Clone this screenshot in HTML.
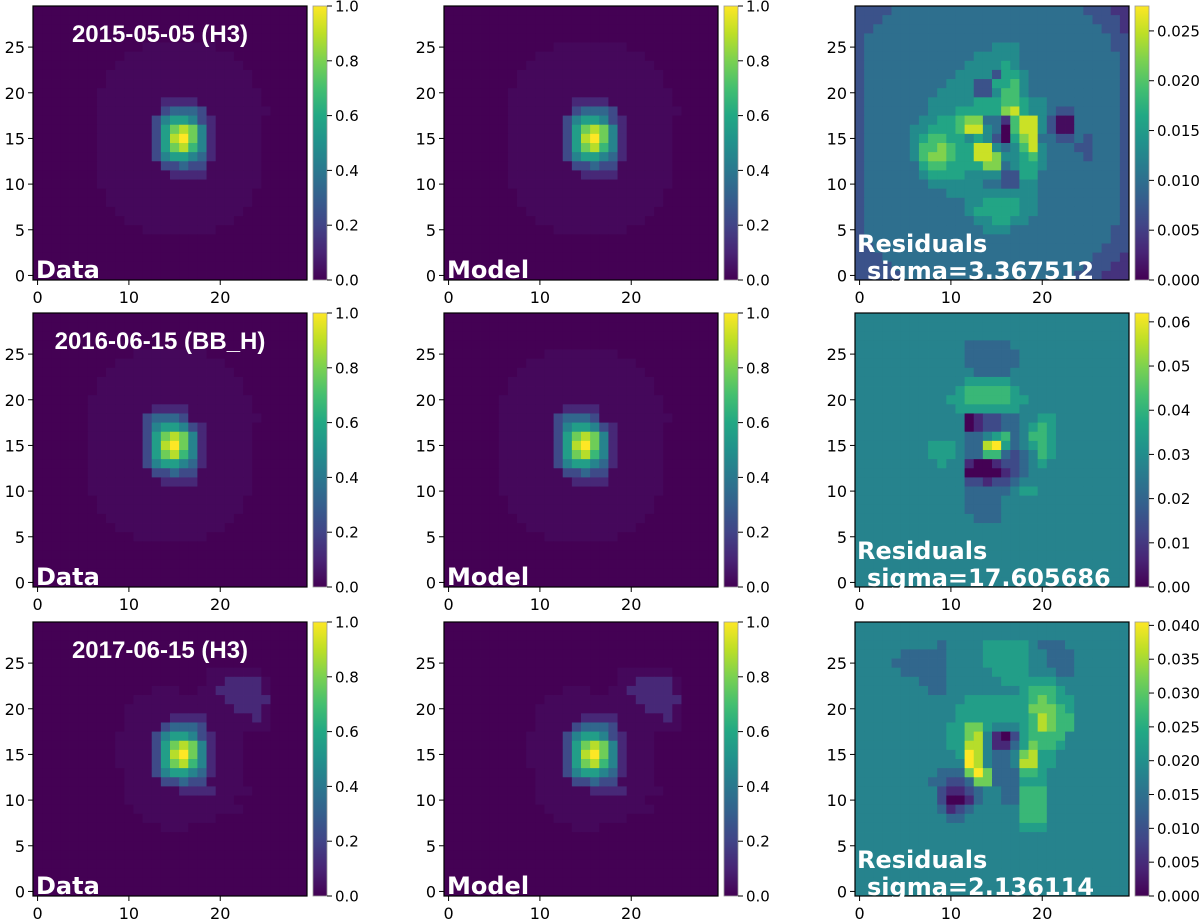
<!DOCTYPE html>
<html><head><meta charset="utf-8">
<style>
html,body{margin:0;padding:0;background:#fff;}
svg{display:block;}
</style></head>
<body>
<svg id="fig" width="1200" height="923" viewBox="0 0 1200 923" xmlns="http://www.w3.org/2000/svg" style="font-family:'DejaVu Sans','Liberation Sans',sans-serif">
<defs>
<linearGradient id="vir" x1="0" y1="1" x2="0" y2="0">
<stop offset="0" stop-color="#440154"/><stop offset="0.1" stop-color="#482475"/><stop offset="0.2" stop-color="#414487"/><stop offset="0.3" stop-color="#355f8d"/><stop offset="0.4" stop-color="#2a788e"/><stop offset="0.5" stop-color="#21918c"/><stop offset="0.6" stop-color="#22a884"/><stop offset="0.7" stop-color="#44bf70"/><stop offset="0.8" stop-color="#7ad151"/><stop offset="0.9" stop-color="#bddf26"/><stop offset="1" stop-color="#fde725"/>
</linearGradient>
</defs>
</svg>
<script>
// ---- data: rows listed from y=29 (top) to y=0 (bottom); '.'=0, ':'=faint, digits d/9 of colour range
const psfRow1 = [
"..............................","..............................","..............................","..............................",
"............::::::::..........","..........::::::::::::........",".........::::::::::::::.......","........::::::::::::::::......",
"........::::::::::::::::......",".......::::::::::::::::::.....",".......:::::::1111:::::::.....",".......:::::::23332:::::::....".slice(0,30),
".......::::::2455421:::::.....",".......::::::2578741:::::.....",".......::::::2589741:::::.....",".......::::::2578641:::::.....",
".......::::::2455431:::::.....",".......:::::::22322::::::.....",".......::::::::1111::::::.....",".......::::::::::::::::::.....",
"........::::::::::::::::......","........::::::::::::::::......",".........::::::::::::::.......","..........::::::::::::........",
"............::::::::..........","..............................","..............................","..............................",
"..............................",".............................."];
const psfRow2 = [
"..............................","..............................","..............................","..............................",
"...........::::::::...........",".........::::::::::::.........","........::::::::::::::........",".......::::::::::::::::.......",
".......::::::::::::::::.......","......::::::::::::::::::......","......:::::::1111:::::::......","......::::::23332::::::::.....".slice(0,30),
"......::::::2455421:::::......","......::::::2578741:::::......","......::::::2589741:::::......","......::::::2578641:::::......",
"......::::::2455431:::::......","......:::::::22322::::::......","......::::::::1111::::::......","......::::::::::::::::::......",
".......::::::::::::::::.......",".......::::::::::::::::.......","........::::::::::::::........",".........::::::::::::.........",
"...........::::::::...........","..............................","..............................","..............................",
"..............................",".............................."];
const psfRow3 = [
"..............................","..............................","..............................","..............................",
"..............................","...................::::::.....","...................::1111:.....",".............:::..::11111:.....",
"...........::::::::::11111....","..........::::::::::::111:.....","..........:::::1111:::::1:.....","..........::::23332:::::::....".slice(0,30),
".........::::2455421:::.......",".........::::2578741:::.......",".........::::2589741:::.......",".........::::2578641:::.......",
"..........:::2455431:::.......","..........::::22322::::.......","..........::::::1111::::......","..........::::::::::::........",
"...........::::::::::::.......","............::::::::..........","..............:::.............","..............................",
"..............................","..............................","..............................","..............................",
"..............................",".............................."];
const resid1 = [
"333344444444444444444444433322","333444444444444444444444443332","334444444444444444444444444332","344444444444444444444444444433",
"344444444444444555444444444433","344444444444455555444444444443","344444444444555565444444444443","344444444445555366544444444443",
"344444444455533667544444444443","344444444555533577544444444443","344444445555566677655444444443","344444445556666689655433444443",
"344444455667884427995311444443","344444556667995407995311444443","344444567766565306894433434443","344444577876699545795444334443",
"344444578876699855675444434443","344444467766668845665444444443","344444456666555533664444444443","344444445555554433554444444443",
"344444444455555555554444444443","344444444444556666554444444443","344444444444566666554444444443","344444444444455665544444444443",
"344444444444445554444444444433","344444444444444444444444444433","334444444444444444444444444333","333444444444444444444444443332",
"333344444444444444444444433322","333334444444444444444444333222"];
const resid2 = [
"444444444444444444444444444444","444444444444444444444444444444","444444444444444444444444444444","444444444444333334444444444444",
"444444444444333333444444444444","444444444444333333444444444444","444444444444433334444444444444","444444444444555554444444444444",
"444444444445666665444444444444","444444444455666665544444444444","444444444445555555444444444444","444444444444012233445544444444",
"444444444444012233456544444444","444444444444334563466544444444","444444445554338953456544444444","444444445554336632346544444444",
"444444444544100122345444444444","444444444444000012344444444444","444444444444221223444444444444","444444444444333334554444444444",
"444444444444333344444444444444","444444444444333344444444444444","444444444444433344444444444444","444444444444444444444444444444",
"444444444444444444444444444444","444444444444444444444444444444","444444444444444444444444444444","444444444444444444444444444444",
"444444444444444444444444444444","444444444444444444444444444444"];
const resid3 = [
"444444444444444444444444444444","444444444444444444444444444444","444444444344445555543334444444","444443333344445555544333444444",
"444433333344445555544333444444","444443333344444555544433444444","444444433344444455555544444444","444444443344444444566654444444",
"444444444444555555567655444444","444444444445555555577765444444","444444444445555555568766444444","444444444455775444568766444444",
"444444444455784102566664444444","444444444455884113576654444444","444444444445984334785544444444","444444444444984334885544444444",
"444444444333797333665444444444","444444443322377333555444444444","444444444211234433666444444444","444444444200134433666444444444",
"444444444312344444666444444444","444444444433444444666444444444","444444444444444444555444444444","444444444444444444444444444444",
"444444444444444444444444444444","444444444444444444444444444444","444444444444444444444444444444","444444444444444444444444444444",
"444444444444444444444444444444","444444444444444444444444444444"];
const resOffset = [-0.08, 0, 0];
const xTicks = [0, 10, 20];
const yTicks = [0, 5, 10, 15, 20, 25];
const cbTicksPSF = [0, 0.2, 0.4, 0.6, 0.8, 1.0];
const cbLabelsPSF = ["0.0","0.2","0.4","0.6","0.8","1.0"];
const resMax = [0.0275, 0.062, 0.0405];
const resTicks1 = [0, 0.005, 0.010, 0.015, 0.020, 0.025];
const resLabels1 = ["0.000","0.005","0.010","0.015","0.020","0.025"];
const resTicks2 = [0, 0.01, 0.02, 0.03, 0.04, 0.05, 0.06];
const resLabels2 = ["0.00","0.01","0.02","0.03","0.04","0.05","0.06"];
const resTicks3 = [0, 0.005, 0.010, 0.015, 0.020, 0.025, 0.030, 0.035, 0.040];
const resLabels3 = ["0.000","0.005","0.010","0.015","0.020","0.025","0.030","0.035","0.040"];
const titles = ["2015-05-05 (H3)", "2016-06-15 (BB_H)", "2017-06-15 (H3)"];
const sigmas = ["sigma=3.367512", "sigma=17.605686", "sigma=2.136114"];

// ---- rendering
const NS = "http://www.w3.org/2000/svg";
const svg = document.getElementById('fig');
const VIR = ["#440154","#482475","#414487","#355f8d","#2a788e","#21918c","#22a884","#44bf70","#7ad151","#bddf26","#fde725"];
function hex(h){return [parseInt(h.substr(1,2),16),parseInt(h.substr(3,2),16),parseInt(h.substr(5,2),16)];}
function viridis(t){t=Math.max(0,Math.min(1,t));const p=t*10,i=Math.min(9,Math.floor(p)),f=p-i;const a=hex(VIR[i]),b=hex(VIR[i+1]);
  return "rgb("+a.map((v,k)=>Math.round(v+(b[k]-v)*f)).join(",")+")";}
function charVal(c){if(c==='.')return 0;if(c===':')return 0.02;return parseInt(c,10)/9;}
function mk(tag,attrs,parent){const e=document.createElementNS(NS,tag);for(const k in attrs)e.setAttribute(k,attrs[k]);(parent||svg).appendChild(e);return e;}

const colX = [33, 444, 855];
const rowY = [6, 313, 622];
const S = 274;
const xScale = (v, x0) => x0 + (v + 0.5) * S / 30;
const yScale = (v, y0) => y0 + S - (v + 0.5) * S / 30;

function drawPanel(grid, x0, y0, name, offset){
  const g = mk('g', {});
  
  
  const cw = S/30;
  for(let r=0;r<30;r++){
    const yv = 29-r;
    for(let c=0;c<30;c++){
      const ch = grid[r][c];
      const t = charVal(ch) + ((ch>='0'&&ch<='9') ? offset : 0);
      const rect = mk('rect',{x:(xScale(c,x0)-cw/2).toFixed(2),y:(yScale(yv,y0)-cw/2).toFixed(2),width:(cw+0.4).toFixed(2),height:(cw+0.4).toFixed(2),fill:viridis(t)},g);
      
      
    }
  }
  const fr = mk('rect',{x:x0,y:y0,width:S,height:S,fill:'none',stroke:'#000','stroke-width':1.2},g);
  
  
  xTicks.forEach(v=>{
    const x = xScale(v,x0);
    mk('line',{x1:x,x2:x,y1:y0+S,y2:y0+S+5,stroke:'#000','stroke-width':1},g);
    const t = mk('text',{x:x,y:y0+S+23,'font-size':16,'text-anchor':'middle',fill:'#000'},g);
    t.textContent = v;
    
    
  });
  yTicks.forEach(v=>{
    const y = yScale(v,y0);
    mk('line',{x1:x0-5,x2:x0,y1:y,y2:y,stroke:'#000','stroke-width':1},g);
    const t = mk('text',{x:x0-8,y:y+6,'font-size':16,'text-anchor':'end',fill:'#000'},g);
    t.textContent = v;
    
    
  });
  return g;
}
function drawColorbar(x0, y0, max, ticks, labels, name){
  const g = mk('g', {});
  
  
  mk('rect',{x:x0,y:y0,width:14,height:S,fill:'url(#vir)',stroke:'#999','stroke-width':0.8},g);
  ticks.forEach((v,i)=>{
    const y = y0 + S - v/max*S;
    mk('line',{x1:x0+14,x2:x0+19,y1:y,y2:y,stroke:'#000','stroke-width':1},g);
    const t = mk('text',{x:x0+22,y:y+5.5,'font-size':15,fill:'#000'},g);
    t.textContent = labels[i];
    
    
  });
}
function label(txt, x, y, size, fam, anchor, name){
  const t = mk('text',{x:x,y:y,'font-size':size,'font-weight':'bold',fill:'#fff','text-anchor':anchor||'start'});
  t.setAttribute('style', 'font-family:' + fam);
  t.textContent = txt;
  
  
}
const psfs = [psfRow1, psfRow2, psfRow3];
const resids = [resid1, resid2, resid3];
const resT = [resTicks1, resTicks2, resTicks3];
const resL = [resLabels1, resLabels2, resLabels3];
for(let r=0;r<3;r++){
  const y0 = rowY[r];
  drawPanel(psfs[r], colX[0], y0, 'data-image-'+(r+1), 0);
  drawColorbar(colX[0]+S+6, y0, 1, cbTicksPSF, cbLabelsPSF, 'data-colorbar-'+(r+1));
  drawPanel(psfs[r], colX[1], y0, 'model-image-'+(r+1), 0);
  drawColorbar(colX[1]+S+6, y0, 1, cbTicksPSF, cbLabelsPSF, 'model-colorbar-'+(r+1));
  drawPanel(resids[r], colX[2], y0, 'residual-image-'+(r+1), resOffset[r]);
  drawColorbar(colX[2]+S+6, y0, resMax[r], resT[r], resL[r], 'residual-colorbar-'+(r+1));
  label(titles[r], 160, y0+36, 24, "'Liberation Sans',sans-serif", 'middle', 'epoch-title');
  label('Data', colX[0]+3, y0+S-2, 24, "'DejaVu Sans',sans-serif", 'start', 'data-label');
  label('Model', colX[1]+3, y0+S-2, 24, "'DejaVu Sans',sans-serif", 'start', 'model-label');
  label('Residuals', colX[2]+2, y0+S-28, 24, "'DejaVu Sans',sans-serif", 'start', 'residuals-label');
  label(sigmas[r], colX[2]+12, y0+S-1, 24, "'DejaVu Sans',sans-serif", 'start', 'sigma-label');
}
</script>
</body></html>
